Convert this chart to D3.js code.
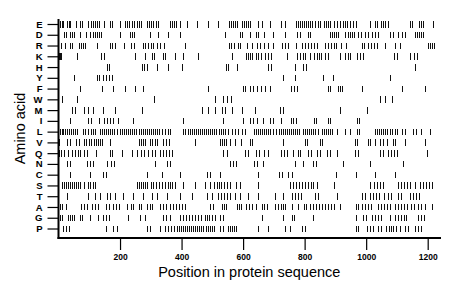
<!DOCTYPE html>
<html>
<head>
<meta charset="utf-8">
<script src="https://cdn.jsdelivr.net/npm/d3@7"></script>
<style>
  html, body { margin: 0; padding: 0; background: #fff; }
  svg { display: block; }
</style>
</head>
<body>
<svg id="chart" width="460" height="299"></svg>
<script>
// ---- data ----
const categories = ["E","D","R","K","H","Y","F","W","M","I","L","V","Q","N","C","S","T","A","G","P"];
const xTickValues = [200, 400, 600, 800, 1000, 1200];
const sequenceLength = 1240;

const posE = [5,10,15,28,33,37,57,70,76,96,106,112,119,125,132,148,167,174,200,216,223,229,239,246,255,262,268,288,294,301,307,317,324,363,369,376,382,395,418,450,486,519,554,561,567,574,580,597,603,610,616,623,649,662,688,723,736,772,778,785,792,798,805,811,818,824,834,844,850,863,870,876,883,896,906,915,925,932,938,948,958,967,1013,1029,1036,1049,1055,1062,1072,1143,1150,1172,1179,1185,1218];
const posD = [18,24,37,44,50,70,89,102,112,119,125,132,138,200,233,239,246,298,324,356,395,541,590,597,623,642,649,668,698,736,776,785,811,818,883,889,896,902,909,932,941,948,954,961,974,984,997,1007,1020,1029,1039,1078,1088,1104,1117,1127,1159,1166,1172,1179,1185];
const posR = [8,21,37,44,67,73,80,86,125,167,174,184,213,236,246,275,281,291,301,307,320,330,343,411,554,561,571,584,590,613,629,646,655,668,681,698,727,736,746,772,792,802,811,821,831,841,867,876,886,896,902,919,935,987,993,1007,1016,1026,1036,1062,1094,1110,1202,1208,1215,1221];
const posK = [2,5,8,60,138,148,249,281,304,311,340,346,379,405,454,564,610,616,623,629,642,649,659,672,681,691,743,776,785,795,802,818,831,841,847,854,867,876,915,932,941,948,971,980,990,1091,1101,1143,1156,1166];
const posH = [158,164,272,278,288,320,356,402,545,551,580,681,691,769,795,805,1159];
const posY = [50,125,132,145,154,164,174,730,769,860,893,1078];
const posF = [70,141,177,216,249,275,486,600,607,623,633,646,659,672,688,756,766,776,876,883,909,915,922,987,1117,1192];
const posW = [11,60,311,509,535,548,561,1046,1062,1085];
const posM = [44,54,83,96,112,145,184,272,467,486,509,532,541,564,597,639,720,730,915,1003];
const posI = [37,96,106,132,148,158,167,177,193,242,405,535,600,623,633,646,665,688,698,723,756,762,772,831,837,876,883,971,977];
const posL = [5,11,15,21,28,34,41,47,54,60,80,86,96,106,112,119,135,141,148,154,161,167,174,180,190,200,206,213,220,226,233,239,246,252,262,268,275,281,288,294,301,307,314,320,327,337,346,356,363,405,411,421,428,434,441,447,454,460,467,473,480,486,493,499,506,512,522,528,535,541,551,564,574,584,597,607,636,642,649,655,662,668,675,681,688,698,707,717,723,730,736,743,749,756,762,769,776,782,795,802,808,815,821,828,834,844,857,863,870,876,883,889,906,932,948,971,977,1029,1036,1042,1049,1055,1062,1068,1078,1085,1094,1101,1117,1127,1153,1163,1179,1208];
const posV = [2,28,37,57,67,83,89,99,106,115,122,128,135,141,167,262,268,275,281,298,304,314,320,340,350,359,444,525,532,538,545,558,574,594,623,629,730,802,808,850,857,964,971,1007,1013,1029,1046,1055,1068,1088,1094,1127,1192];
const posQ = [2,8,18,31,44,54,63,70,83,93,122,167,174,206,239,255,268,278,291,304,314,330,340,350,359,369,535,548,607,616,642,652,668,681,723,733,743,762,778,785,811,821,841,850,873,883,906,964,974,1046,1055,1072,1081,1091,1101,1198];
const posN = [28,37,93,102,112,158,171,180,314,353,363,558,567,577,636,646,665,769,795,828,837,925,1013,1120];
const posC = [37,102,145,154,288,337,395,483,493,525,649,717,727,746,759,902,967,1029,1094];
const posS = [11,18,24,31,37,44,50,57,63,70,83,96,102,112,119,255,262,268,275,281,288,301,307,317,327,337,346,356,363,369,379,405,444,476,493,506,515,522,528,538,548,558,577,590,649,753,762,772,782,792,802,811,821,828,841,896,1013,1026,1036,1046,1055,1104,1114,1124,1133,1143,1159,1176,1185,1195,1205,1215];
const posT = [28,96,119,135,158,167,184,210,242,275,304,320,353,395,434,483,499,519,528,538,548,558,574,590,616,649,704,730,759,769,778,789,834,844,906,987,997,1013,1023,1033,1042,1059,1072,1081,1104,1114,1143,1153,1163,1172];
const posA = [5,11,24,73,83,93,109,119,128,154,164,177,187,197,223,236,242,262,268,288,298,304,330,340,350,363,372,382,392,402,411,493,502,532,538,545,580,587,594,610,620,629,642,662,668,678,704,714,723,730,736,759,778,798,805,818,828,837,847,857,867,876,886,896,915,967,974,987,997,1007,1016,1039,1049,1059,1068,1078,1094,1104,1114,1124,1133,1146,1156,1169,1179,1192,1215];
const posG = [5,11,31,37,44,50,70,76,102,128,145,154,164,226,265,281,340,350,363,395,405,415,424,434,444,454,463,476,483,489,499,509,525,535,662,730,759,766,828,967,990,1000,1020,1029,1039,1049,1078,1094,1104,1114,1124,1130,1169,1179,1189];
const posP = [15,24,34,154,177,190,288,298,330,346,356,366,376,385,392,398,405,411,418,424,431,437,444,450,457,463,470,480,486,493,499,506,525,535,551,558,564,571,577,649,681,736,753,792,802,967,974,1003,1013,1023,1039,1049,1065,1075,1081,1088,1098,1110,1127,1137,1159,1169,1179];

const positionLists = [posE,posD,posR,posK,posH,posY,posF,posW,posM,posI,posL,posV,posQ,posN,posC,posS,posT,posA,posG,posP];
const marks = [];
categories.forEach((aa, i) => positionLists[i].forEach(p => marks.push({aa, p})));

// ---- layout ----
const svg = d3.select("#chart");
const plotLeft = 58.5, plotRight = 440, plotBottom = 238, plotTop = 19;
const x = d3.scaleLinear().domain([0, sequenceLength]).range([plotLeft, plotRight]);
const y = d3.scalePoint().domain(categories).range([24, 228.5]);

// marks
svg.append("g")
  .attr("shape-rendering", "crispEdges")
  .selectAll("line")
  .data(marks)
  .enter().append("line")
  .attr("x1", d => Math.round(x(d.p)) + 0.5)
  .attr("x2", d => Math.round(x(d.p)) + 0.5)
  .attr("y1", d => y(d.aa) - 3)
  .attr("y2", d => y(d.aa) + 3.5)
  .attr("stroke", "#111")
  .attr("stroke-width", 1);

// y axis
const yAxis = svg.append("g")
  .attr("transform", `translate(${plotLeft},0)`)
  .call(d3.axisLeft(y).tickSize(11).tickPadding(5).tickSizeOuter(0));
yAxis.select(".domain").remove();
yAxis.selectAll(".tick line").attr("stroke", "#000").attr("stroke-width", 1.2);
yAxis.selectAll(".tick text")
  .attr("font-family", "Liberation Sans, Arial, sans-serif")
  .attr("font-size", 9.5)
  .attr("font-weight", "bold")
  .attr("fill", "#000");

// x axis
const xAxis = svg.append("g")
  .attr("transform", `translate(0,${plotBottom})`)
  .call(d3.axisBottom(x).tickValues(xTickValues).tickFormat(d3.format("d")).tickSize(12).tickPadding(4).tickSizeOuter(0));
xAxis.select(".domain").remove();
xAxis.selectAll(".tick line").attr("stroke", "#000").attr("stroke-width", 1.2);
xAxis.selectAll(".tick text")
  .attr("font-family", "Liberation Sans, Arial, sans-serif")
  .attr("font-size", 8.5)
  .attr("font-weight", "bold")
  .attr("fill", "#000");

// frame lines (left & bottom)
svg.append("line")
  .attr("x1", plotLeft).attr("x2", plotLeft).attr("y1", plotTop).attr("y2", plotBottom + 1)
  .attr("stroke", "#000").attr("stroke-width", 2);
svg.append("line")
  .attr("x1", plotLeft - 1).attr("x2", plotRight + 1).attr("y1", plotBottom).attr("y2", plotBottom)
  .attr("stroke", "#000").attr("stroke-width", 2);

// axis titles
svg.append("text")
  .attr("x", (plotLeft + plotRight) / 2)
  .attr("y", 277)
  .attr("text-anchor", "middle")
  .attr("font-family", "Liberation Sans, Arial, sans-serif")
  .attr("font-size", 14.5)
  .attr("fill", "#000")
  .text("Position in protein sequence");

svg.append("text")
  .attr("transform", `translate(25,${(plotTop + plotBottom) / 2}) rotate(-90)`)
  .attr("text-anchor", "middle")
  .attr("font-family", "Liberation Sans, Arial, sans-serif")
  .attr("font-size", 14.5)
  .attr("fill", "#000")
  .text("Amino acid");
</script>
</body>
</html>
